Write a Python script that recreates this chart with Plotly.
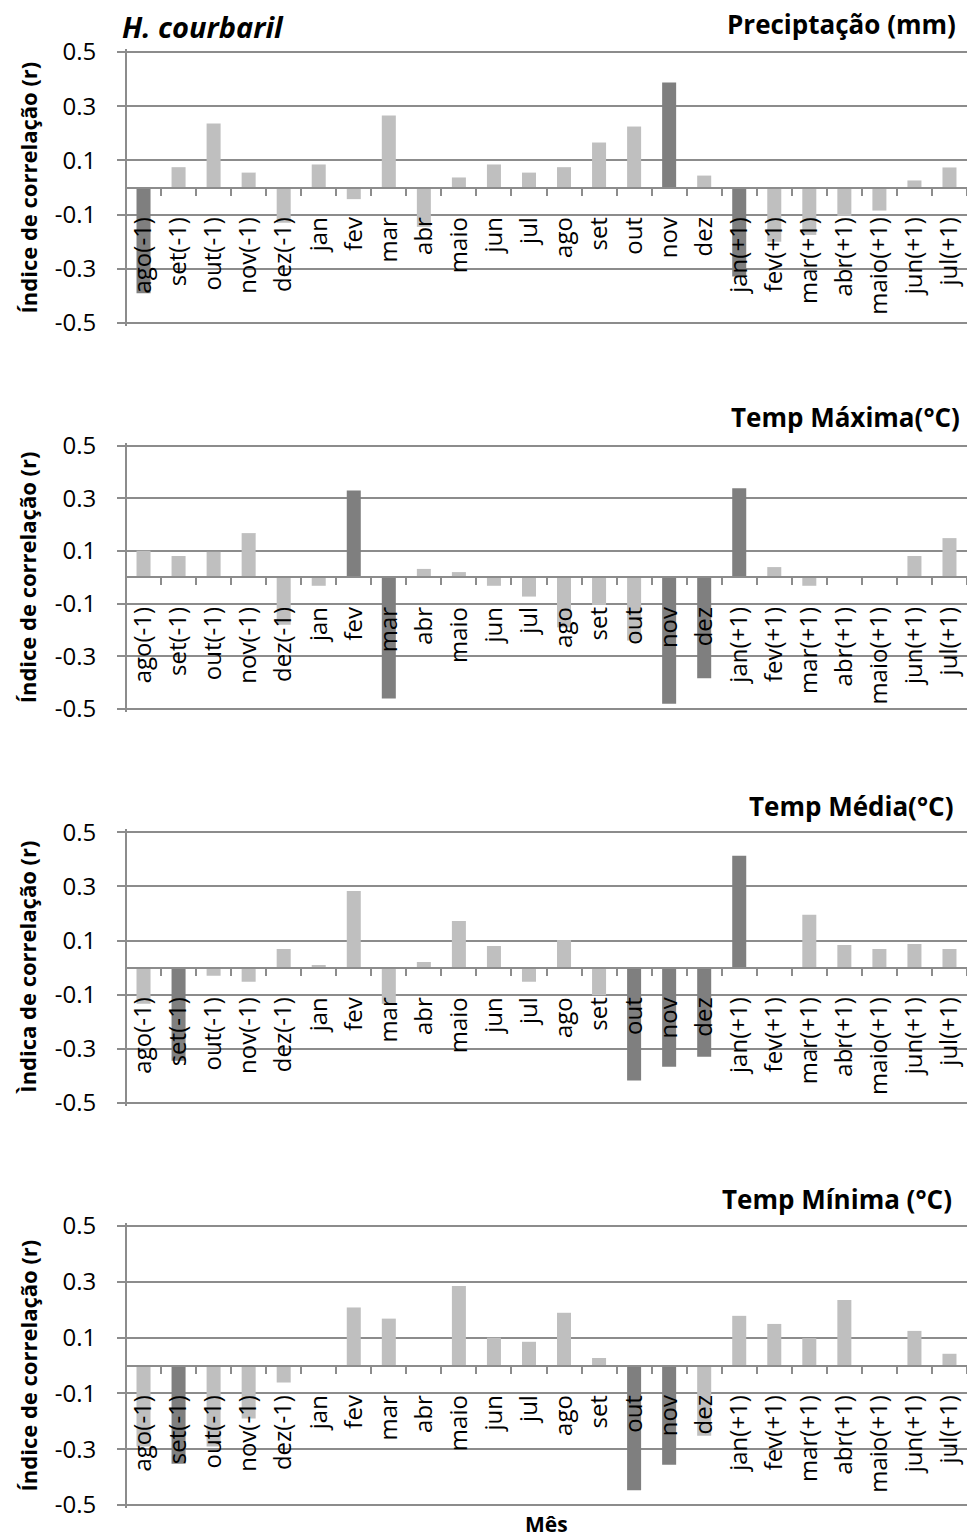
import plotly.graph_objects as go

# ---------------- data ----------------
months = ["ago(-1)", "set(-1)", "out(-1)", "nov(-1)", "dez(-1)", "jan", "fev", "mar",
          "abr", "maio", "jun", "jul", "ago", "set", "out", "nov", "dez",
          "jan(+1)", "fev(+1)", "mar(+1)", "abr(+1)", "maio(+1)", "jun(+1)", "jul(+1)"]

precip = [-0.39, 0.075, 0.236, 0.055, -0.13, 0.085, -0.043, 0.266, -0.145, 0.037, 0.085, 0.055,
          0.075, 0.166, 0.225, 0.387, 0.044, -0.328, -0.20, -0.175, -0.105, -0.085, 0.026, 0.074]
tmax = [0.101, 0.081, 0.097, 0.168, -0.18, -0.032, 0.33, -0.46, 0.032, 0.02, -0.032, -0.073,
        -0.19, -0.105, -0.24, -0.48, -0.383, 0.338, 0.039, -0.032, 0.0, 0.0, 0.081, 0.149]
tmed = [-0.133, -0.344, -0.03, -0.052, 0.069, 0.01, 0.283, -0.133, 0.021, 0.172, 0.08, -0.052,
        0.102, -0.102, -0.417, -0.366, -0.329, 0.413, 0.0, 0.195, 0.084, 0.069, 0.087, 0.069]
tmin = [-0.29, -0.352, -0.29, -0.19, -0.061, 0.0, 0.208, 0.168, 0.0, 0.285, 0.1, 0.085,
        0.189, 0.027, -0.447, -0.356, -0.252, 0.178, 0.149, 0.098, 0.235, 0.0, 0.124, 0.042]

# significant months (dark bars)
sig_precip = ["ago(-1)", "nov", "jan(+1)"]
sig_tmax = ["fev", "mar", "nov", "dez", "jan(+1)"]
sig_tmed = ["set(-1)", "out", "nov", "dez", "jan(+1)"]
sig_tmin = ["set(-1)", "out", "nov"]

titles = ["Preciptação (mm)", "Temp Máxima(°C)", "Temp Média(°C)", "Temp Mínima (°C)"]
ytitles = ["Índice de correlação (r)", "Índice de correlação (r)",
           "Ìndica de correlação (r)", "Índice de correlação (r)"]
ytickvals = [-0.5, -0.3, -0.1, 0.1, 0.3, 0.5]
yticktext = ["-0.5", "-0.3", "-0.1", "0.1", "0.3", "0.5"]
species = "H. courbaril"
xlabel = "Mês"

series = [precip, tmax, tmed, tmin]
sigs = [sig_precip, sig_tmax, sig_tmed, sig_tmin]

# ---------------- layout helpers ----------------
W, H = 967, 1540
L, R, T, B = 126, 0, 49, 32
PW, PH = W - L - R, H - T - B


def fx(px):
    return (px - L) / PW


def fy(py):
    return (H - B - py) / PH


panel_px = [(52, 323), (445.7, 709), (832.3, 1103), (1226, 1505)]
title_pos = [(958, 24), (962, 417), (955, 806), (954, 1199)]
PAD = 3  # px of extra room so the edge gridlines (+-0.5) get drawn

LIGHT = "#BFBFBF"
DARK = "#7F7F7F"
GRID = "#8C8C8C"
FONT = "Open Sans"

fig = go.Figure()
annotations = []
layout = {}

for i, (vals, sig) in enumerate(zip(series, sigs)):
    n = "" if i == 0 else str(i + 1)
    colors = [DARK if m in sig else LIGHT for m in months]
    fig.add_trace(go.Bar(x=months, y=vals, marker=dict(color=colors, line=dict(width=0)),
                         xaxis="x" + n, yaxis="y" + n, showlegend=False))
    top, bot = panel_px[i]
    h = bot - top
    half = 0.5 * (h + 2 * PAD) / h
    d0, d1 = fy(bot + PAD), fy(top - PAD)
    layout["xaxis" + n] = dict(
        domain=[0, 1], anchor="free", position=(d0 + d1) / 2, type="category",
        range=[-0.5, len(months) - 0.5],
        showline=True, linecolor=GRID, linewidth=2,
        ticks="outside", tickson="boundaries", ticklen=7, tickwidth=2, tickcolor=GRID,
        tickangle=-90, tickfont=dict(family=FONT, size=24, color="black"),
        ticklabelstandoff=19, showgrid=False, zeroline=False, fixedrange=True)
    layout["yaxis" + n] = dict(
        domain=[d0, d1], anchor="free", position=0, range=[-half, half],
        tickmode="array", tickvals=ytickvals, ticktext=yticktext,
        showgrid=True, gridcolor=GRID, gridwidth=2,
        showline=True, linecolor=GRID, linewidth=2,
        ticks="outside", ticklen=8, tickwidth=2, tickcolor=GRID,
        tickfont=dict(family=FONT, size=24, color="black"),
        ticklabelstandoff=16, zeroline=False, fixedrange=True)
    tx, ty = title_pos[i]
    annotations.append(dict(text="<b>" + titles[i] + "</b>", xref="paper", yref="paper",
                            x=fx(tx), y=fy(ty), xanchor="right", yanchor="middle",
                            showarrow=False, font=dict(family=FONT, size=26, color="black")))
    annotations.append(dict(text="<b>" + ytitles[i] + "</b>", xref="paper", yref="paper",
                            x=fx(27), y=(d0 + d1) / 2, xanchor="center", yanchor="middle",
                            textangle=-90, showarrow=False,
                            font=dict(family=FONT, size=22, color="black")))

annotations.append(dict(text="<b><i>" + species + "</i></b>", xref="paper", yref="paper",
                        x=fx(120), y=fy(26), xanchor="left", yanchor="middle",
                        showarrow=False, font=dict(family=FONT, size=29, color="black")))
annotations.append(dict(text="<b>" + xlabel + "</b>", xref="paper", yref="paper",
                        x=fx(546), y=fy(1524), xanchor="center", yanchor="middle",
                        showarrow=False, font=dict(family=FONT, size=21, color="black")))

fig.update_layout(
    width=W, height=H, margin=dict(l=L, r=R, t=T, b=B, pad=0),
    paper_bgcolor="white", plot_bgcolor="white",
    bargap=0.6, annotations=annotations, font=dict(family=FONT, color="black"),
    **layout)

fig.write_html("out.html")
